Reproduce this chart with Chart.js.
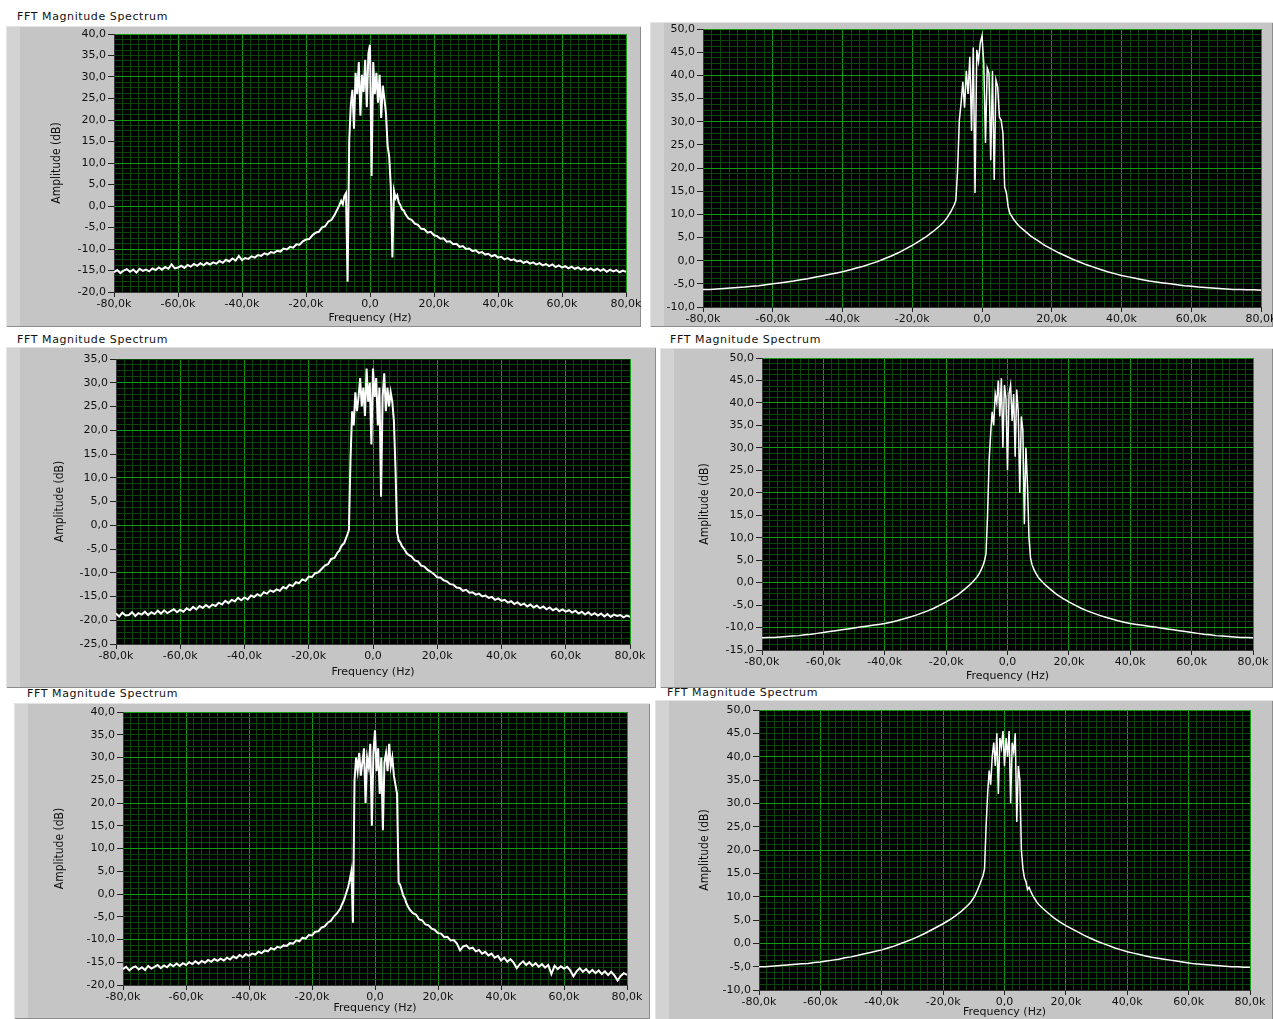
<!DOCTYPE html>
<html lang="pt">
<head>
<meta charset="utf-8">
<title>FFT Magnitude Spectrum</title>
<script src="https://cdn.jsdelivr.net/npm/chart.js@4.4.0/dist/chart.umd.min.js"></script>
<style>
  html, body { margin: 0; padding: 0; background: #fff; }
  body { position: relative; width: 1273px; height: 1019px; overflow: hidden; }
  .titulo { position: absolute; font: 11px "DejaVu Sans", sans-serif; letter-spacing: 0.6px; color: #111; white-space: nowrap; line-height: 14px; }
  .painel { position: absolute; background: #c5c5c5; box-shadow: inset 1px 1px 0 #e4e4e4, inset -1px -1px 0 #8c8c8c, inset 14px 0 0 #d3d3d3; }
  .painel canvas { position: absolute; left: 0; top: 0; }
</style>
</head>
<body>
<div class="titulo" style="left:17px;top:10px">FFT Magnitude Spectrum</div>
<div class="titulo" style="left:17px;top:333px">FFT Magnitude Spectrum</div>
<div class="titulo" style="left:670px;top:333px">FFT Magnitude Spectrum</div>
<div class="titulo" style="left:27px;top:687px">FFT Magnitude Spectrum</div>
<div class="titulo" style="left:667px;top:686px">FFT Magnitude Spectrum</div>
<script>
// frequencias em kHz
const freqRuidoso = [
  -80, -79, -78, -77, -76, -75, -74, -73, -72, -71,
  -70, -69, -68, -67, -66, -65, -64, -63, -62, -61,
  -60, -59, -58, -57, -56, -55, -54, -53, -52, -51,
  -50, -49, -48, -47, -46, -45, -44, -43, -42, -41,
  -40, -39, -38, -37, -36, -35, -34, -33, -32, -31,
  -30, -29, -28, -27, -26, -25, -24, -23, -22, -21,
  -20, -19, -18, -17, -16, -15, -14, -13, -12, -11,
  -10.5, -10, -9.5, -9, -8.5, -8, -7.5, -7, -6.5, -6, -5.5,
  -5, -4.5, -4, -3.5, -3, -2.5, -2, -1.5, -1, -0.5,
  0, 0.5, 1, 1.5, 2, 2.5, 3, 3.5, 4, 4.5, 5,
  5.5, 6, 6.5, 7, 7.5, 8, 8.5, 9, 9.5, 10, 10.5,
  11, 12, 13, 14, 15, 16, 17, 18, 19, 20,
  21, 22, 23, 24, 25, 26, 27, 28, 29, 30,
  31, 32, 33, 34, 35, 36, 37, 38, 39, 40,
  41, 42, 43, 44, 45, 46, 47, 48, 49, 50,
  51, 52, 53, 54, 55, 56, 57, 58, 59, 60,
  61, 62, 63, 64, 65, 66, 67, 68, 69, 70,
  71, 72, 73, 74, 75, 76, 77, 78, 79, 80
];

const freqSuave = [
  -80, -78, -76, -74, -72, -70, -68, -66, -64, -62,
  -60, -58, -56, -54, -52, -50, -48, -46, -44, -42,
  -40, -38, -36, -34, -32, -30, -28, -26, -24, -22,
  -20, -18, -16, -14, -12,
  -11, -10.5, -10, -9.5, -9, -8.5, -8, -7.5, -7, -6.5, -6,
  -5.5, -5, -4.5, -4, -3.5, -3, -2.5, -2, -1.5, -1, -0.5,
  0, 0.5, 1, 1.5, 2, 2.5, 3, 3.5, 4, 4.5, 5,
  5.5, 6, 6.5, 7, 7.5, 8, 8.5, 9, 9.5, 10, 10.5, 11,
  12, 14, 16, 18, 20, 22, 24, 26, 28, 30,
  32, 34, 36, 38, 40, 42, 44, 46, 48, 50,
  52, 54, 56, 58, 60, 62, 64, 66, 68, 70,
  72, 74, 76, 78, 80
];

// amplitudes em dB
const amplitude1 = [
  -15.4, -14.9, -15.6, -15.0, -14.7, -15.3, -14.8, -15.5, -14.6, -15.1,
  -14.8, -15.2, -14.5, -14.9, -14.3, -14.8, -14.2, -14.6, -13.6, -14.5,
  -14.3, -13.9, -14.4, -13.7, -14.1, -13.5, -13.9, -13.3, -13.8, -13.2,
  -13.6, -13.1, -13.4, -12.8, -13.2, -12.5, -12.9, -12.2, -12.7, -11.6,
  -12.6, -12.1, -12.3, -11.7, -12.0, -11.4, -11.6, -11.0, -11.3, -10.7,
  -10.9, -10.4, -10.6, -9.9, -10.1, -9.5, -9.7, -8.9, -9.0, -8.2,
  -7.8, -7.7, -6.8, -6.2, -6.0, -5.0, -4.7, -3.6, -3.2, -2.0,
  -1.2, -0.5, 0.3, 1.2, 0.4, 2.3, 3.0, -17.6, 15.0, 23.5, 27.0,
  18.0, 31.0, 26.0, 33.5, 21.0, 30.5, 26.5, 34.0, 23.0, 35.5,
  37.5, 7.0, 33.5, 26.0, 31.0, 24.0, 30.5, 20.5, 28.0, 25.0, 21.5,
  14.0, 11.5, 4.5, -12.0, 3.5, 1.8, 2.5, 0.8, 0.2, -0.8, -1.0,
  -1.8, -2.9, -3.2, -4.1, -4.4, -5.3, -5.4, -6.2, -6.0, -6.8,
  -7.0, -7.6, -7.5, -8.3, -8.2, -8.9, -8.8, -9.5, -9.3, -10.0,
  -9.9, -10.5, -10.3, -10.9, -10.7, -11.3, -11.1, -11.7, -11.4, -12.0,
  -11.8, -12.4, -12.1, -12.6, -12.4, -12.9, -12.7, -13.2, -12.9, -13.4,
  -13.1, -13.6, -13.3, -13.8, -13.5, -14.0, -13.6, -14.2, -13.8, -14.3,
  -14.0, -14.5, -14.1, -14.6, -14.3, -14.8, -14.4, -14.9, -14.5, -15.0,
  -14.6, -15.1, -14.7, -15.3, -14.8, -15.2, -14.9, -15.4, -15.0, -15.3
];

const amplitude2 = [
  -6.2, -6.2, -6.1, -6.0, -5.9, -5.8, -5.7, -5.5, -5.4, -5.2,
  -5.0, -4.8, -4.6, -4.4, -4.1, -3.9, -3.6, -3.3, -3.0, -2.7,
  -2.4, -2.0, -1.6, -1.2, -0.7, -0.2, 0.4, 1.0, 1.7, 2.5,
  3.3, 4.2, 5.2, 6.3, 7.6,
  8.3, 8.8, 9.3, 9.9, 10.5, 11.2, 12.0, 13.0, 19.5, 30.3, 34.0,
  38.6, 33.0, 41.0, 36.0, 44.0, 28.0, 46.0, 14.6, 45.5, 43.0, 47.0,
  48.5, 42.7, 25.4, 41.6, 40.5, 21.7, 41.0, 17.4, 39.0, 37.5, 31.0,
  30.3, 27.5, 15.9, 14.6, 11.6, 10.2, 9.6, 9.0, 8.5, 8.0, 7.6, 7.2,
  6.6, 5.3, 4.3, 3.3, 2.5, 1.7, 1.0, 0.3, -0.3, -0.9,
  -1.4, -1.9, -2.4, -2.8, -3.2, -3.5, -3.8, -4.1, -4.4, -4.6,
  -4.8, -5.0, -5.2, -5.4, -5.5, -5.7, -5.8, -5.9, -6.0, -6.1,
  -6.2, -6.2, -6.3, -6.3, -6.4
];

const amplitude3 = [
  -18.6, -19.2, -18.4, -19.0, -18.9, -18.3, -19.1, -18.5, -18.8, -18.2,
  -18.9, -18.3, -18.7, -18.0, -18.6, -17.9, -18.5, -18.1, -17.7, -18.3,
  -17.8, -18.2, -17.5, -17.9, -17.2, -17.7, -17.0, -17.4, -16.8, -17.3,
  -16.7, -17.0, -16.3, -16.7, -15.9, -16.4, -15.7, -16.0, -15.3, -15.8,
  -15.2, -15.6, -14.8, -15.1, -14.5, -14.9, -14.1, -14.4, -13.7, -14.0,
  -13.5, -13.8, -13.0, -13.3, -12.5, -12.8, -12.0, -12.2, -11.4, -11.7,
  -10.8, -10.9, -10.1, -9.9, -9.2, -8.5, -8.2, -7.1, -6.9, -5.7,
  -5.4, -4.6, -4.1, -3.8, -2.9, -2.0, -1.0, 14.0, 24.0, 21.0, 28.0,
  24.0, 27.0, 31.0, 25.0, 29.0, 23.0, 33.0, 26.0, 30.0, 17.0,
  33.0, 27.0, 31.0, 21.0, 29.0, 6.0, 27.0, 32.0, 24.0, 29.0, 25.0,
  28.0, 26.0, 22.0, 12.0, -1.5, -3.2, -3.6, -4.4, -4.8, -5.3, -5.9,
  -6.2, -6.6, -7.4, -7.6, -8.5, -8.7, -9.4, -9.8, -10.3, -11.0,
  -11.0, -11.6, -11.8, -12.4, -12.5, -13.1, -13.2, -13.8, -13.6, -14.2,
  -14.1, -14.6, -14.4, -15.0, -14.8, -15.3, -15.1, -15.7, -15.4, -15.9,
  -15.7, -16.3, -16.0, -16.6, -16.2, -16.8, -16.5, -17.1, -16.7, -17.3,
  -16.9, -17.5, -17.1, -17.7, -17.3, -17.9, -17.5, -18.1, -17.7, -18.2,
  -17.9, -18.4, -18.0, -18.6, -18.2, -18.8, -18.3, -18.9, -18.5, -19.0,
  -18.6, -19.2, -18.7, -19.3, -18.8, -19.1, -18.9, -19.4, -19.0, -19.3
];

const amplitude4 = [
  -12.3, -12.2, -12.2, -12.1, -12.0, -11.9, -11.8, -11.6, -11.5, -11.3,
  -11.1, -10.9, -10.7, -10.5, -10.3, -10.1, -9.9, -9.7, -9.5, -9.3,
  -9.1, -8.8, -8.5, -8.1, -7.7, -7.3, -6.8, -6.3, -5.7, -5.0,
  -4.3, -3.5, -2.6, -1.5, -0.3,
  0.4, 0.8, 1.2, 1.7, 2.3, 3.0, 3.8, 4.8, 6.5, 15.0, 27.0,
  33.0, 38.0, 35.0, 42.0, 40.0, 45.0, 37.0, 45.5, 30.0, 44.0, 41.0,
  25.0, 42.0, 44.0, 36.0, 42.0, 28.0, 43.0, 38.0, 20.0, 37.0, 34.0,
  13.0, 30.0, 22.0, 10.0, 5.5, 4.0, 3.1, 2.4, 1.8, 1.2, 0.8, 0.4,
  -0.3, -1.5, -2.6, -3.5, -4.3, -5.0, -5.7, -6.3, -6.8, -7.3,
  -7.7, -8.1, -8.5, -8.8, -9.1, -9.3, -9.5, -9.7, -9.9, -10.1,
  -10.3, -10.5, -10.7, -10.9, -11.1, -11.3, -11.5, -11.6, -11.8, -11.9,
  -12.0, -12.1, -12.2, -12.2, -12.3
];

const amplitude5 = [
  -16.5, -16.0, -16.8, -16.2, -15.9, -16.6, -16.1, -16.7, -15.8, -16.4,
  -16.0, -15.6, -16.3, -15.7, -16.1, -15.4, -15.9, -15.3, -15.8, -15.2,
  -15.6, -15.0, -15.4, -14.8, -15.3, -14.7, -15.1, -14.5, -14.9, -14.3,
  -14.7, -14.2, -14.6, -14.0, -14.4, -13.7, -14.1, -13.4, -13.9, -13.2,
  -13.6, -13.1, -13.3, -12.7, -13.0, -12.4, -12.6, -11.9, -12.2, -11.6,
  -11.8, -11.3, -11.4, -10.8, -10.9, -10.2, -10.4, -9.6, -9.8, -9.0,
  -9.1, -8.3, -8.2, -7.4, -7.1, -6.3, -5.9, -4.9, -4.2, -3.2,
  -2.3, -1.6, -0.6, 0.5, 1.6, 3.2, 5.0, -6.3, 25.0, 30.0, 27.0,
  31.0, 26.0, 29.0, 32.0, 20.0, 30.0, 28.0, 33.0, 15.0, 31.0,
  36.0, 27.0, 32.0, 22.0, 30.0, 14.0, 29.0, 31.0, 27.0, 33.0, 28.0,
  30.0, 26.0, 24.0, 22.0, 2.5, 2.0, 0.8, -0.4, -1.0, -2.1, -2.8,
  -3.4, -4.2, -4.5, -5.6, -5.8, -6.7, -6.9, -7.6, -7.9, -8.6,
  -8.7, -9.5, -9.4, -10.2, -10.1, -10.9, -12.4, -11.5, -11.3, -12.0,
  -11.8, -12.6, -12.3, -13.1, -12.7, -13.5, -13.1, -14.0, -13.6, -14.6,
  -14.0, -14.9, -14.3, -15.1, -16.3, -15.4, -14.8, -15.6, -15.0, -15.8,
  -15.2, -16.0, -15.4, -16.2, -15.6, -17.6, -15.8, -16.5, -15.9, -16.4,
  -16.0, -16.8, -18.1, -17.0, -16.3, -17.1, -16.5, -17.3, -16.7, -17.4,
  -16.8, -17.6, -17.0, -17.8, -17.1, -17.9, -19.0, -18.0, -17.4, -17.8
];

const amplitude6 = [
  -5.0, -5.0, -4.9, -4.8, -4.7, -4.6, -4.5, -4.4, -4.3, -4.1,
  -4.0, -3.8, -3.6, -3.4, -3.1, -2.9, -2.6, -2.3, -2.0, -1.7,
  -1.4, -1.0, -0.6, -0.1, 0.4, 0.9, 1.5, 2.1, 2.8, 3.5,
  4.2, 5.0, 5.9, 6.9, 8.1,
  8.8, 9.3, 9.8, 10.4, 11.1, 11.9, 12.7, 13.6, 14.5, 16.0, 25.0,
  32.0, 37.0, 34.0, 40.0, 43.0, 38.0, 45.0, 32.0, 44.0, 42.0, 45.5,
  38.0, 44.0, 40.0, 45.5, 30.0, 43.0, 41.0, 45.0, 26.0, 38.0, 35.0,
  20.0, 16.0, 14.0, 13.2, 11.5, 12.0, 11.2, 10.5, 9.9, 9.4, 8.9, 8.4,
  7.8, 6.6, 5.5, 4.6, 3.8, 3.1, 2.4, 1.7, 1.1, 0.5,
  0.0, -0.5, -1.0, -1.4, -1.8, -2.1, -2.4, -2.7, -3.0, -3.2,
  -3.4, -3.6, -3.8, -4.0, -4.2, -4.4, -4.5, -4.6, -4.7, -4.8,
  -4.9, -5.0, -5.0, -5.1, -5.1
];

const faixasY = [[-20, 40], [-10, 50], [-25, 35], [-15, 50], [-20, 40], [-10, 50]];

// layout dos paineis (posicoes na pagina)
const paineis = [
  { x: 6, y: 26, w: 635, h: 301, l: 114, t: 34, r: 626, b: 292, alturaX: 34, tituloY: 51, freq: freqRuidoso, amp: amplitude1, faixa: faixasY[0], linha: 2 },
  { x: 650, y: 22, w: 623, h: 305, l: 703, t: 29, r: 1261, b: 307, alturaX: 20, tituloY: 0, freq: freqSuave, amp: amplitude2, faixa: faixasY[1], linha: 1.5 },
  { x: 6, y: 347, w: 650, h: 341, l: 116, t: 359, r: 630, b: 644, alturaX: 36, tituloY: 54, freq: freqRuidoso, amp: amplitude3, faixa: faixasY[2], linha: 2 },
  { x: 660, y: 348, w: 613, h: 340, l: 762, t: 358, r: 1253, b: 650, alturaX: 34, tituloY: 45, freq: freqSuave, amp: amplitude4, faixa: faixasY[3], linha: 1.5 },
  { x: 14, y: 703, w: 636, h: 316, l: 123, t: 712, r: 627, b: 985, alturaX: 31, tituloY: 46, freq: freqRuidoso, amp: amplitude5, faixa: faixasY[4], linha: 2 },
  { x: 655, y: 700, w: 618, h: 320, l: 759, t: 710, r: 1250, b: 990, alturaX: 30, tituloY: 50, freq: freqSuave, amp: amplitude6, faixa: faixasY[5], linha: 1.5 }
];

const corGradeMaior = "#139c13";
const corGradeMenor = "#0b470b";
const fonteTicks = { family: "'DejaVu Sans', sans-serif", size: 11 };
const fonteTituloY = { family: "'Liberation Sans Narrow', 'DejaVu Sans Condensed', sans-serif", size: 12 };

const fundoPreto = {
  id: "fundoPreto",
  beforeDraw(chart) {
    const { ctx, chartArea: a } = chart;
    ctx.save();
    ctx.fillStyle = "#000";
    ctx.fillRect(a.left, a.top, a.right - a.left, a.bottom - a.top);
    ctx.restore();
  }
};

function multiplo(v, m) {
  return Math.abs(v / m - Math.round(v / m)) < 1e-6;
}

function gerarTicks(min, max, passo) {
  const ticks = [];
  const n = Math.round((max - min) / passo);
  for (let i = 0; i <= n; i++) {
    ticks.push({ value: +(min + i * passo).toFixed(4) });
  }
  return ticks;
}

function rotuloFreq(v) {
  if (Math.abs(v) < 1e-9) return "0,0";
  return v.toFixed(1).replace(".", ",") + "k";
}

function criarGrafico(canvas, p) {
  const comTitulos = p.tituloY > 0;
  const padEsq = comTitulos ? p.tituloY - (fonteTituloY.size * 1.2) / 2 : 0;
  const larguraY = p.l - p.x - padEsq;

  new Chart(canvas.getContext("2d"), {
    type: "line",
    data: {
      datasets: [
        {
          data: p.freq.map((f, i) => ({ x: f, y: p.amp[i] })),
          borderColor: "#ffffff",
          borderWidth: p.linha,
          pointRadius: 0,
          tension: 0,
          fill: false,
        },
      ],
    },
    options: {
      responsive: false,
      animation: false,
      events: [],
      layout: {
        padding: {
          left: padEsq,
          top: p.t - p.y,
          right: p.x + p.w - p.r,
          bottom: p.h - (p.b - p.y) - p.alturaX,
        },
      },
      plugins: { legend: { display: false }, tooltip: { enabled: false } },
      scales: {
        x: {
          type: "linear",
          min: -80,
          max: 80,
          afterBuildTicks: (s) => { s.ticks = gerarTicks(-80, 80, 2.5); },
          afterFit: (s) => { s.height = p.alturaX; s.paddingLeft = 0; s.paddingRight = 0; },
          grid: {
            color: (c) => (c.tick && multiplo(c.tick.value, 20) ? corGradeMaior : corGradeMenor),
            tickLength: 5,
            tickColor: (c) => (c.tick && multiplo(c.tick.value, 20) ? "#222" : "rgba(0,0,0,0)"),
          },
          border: { color: "#3a3a3a" },
          ticks: {
            autoSkip: false,
            maxRotation: 0,
            minRotation: 0,
            padding: 1,
            color: "#111",
            font: fonteTicks,
            callback: (v) => (multiplo(v, 20) ? rotuloFreq(v) : ""),
          },
          title: {
            display: comTitulos,
            text: "Frequency (Hz)",
            color: "#111",
            font: fonteTicks,
            padding: { top: 0, bottom: 1 },
          },
        },
        y: {
          type: "linear",
          min: p.faixa[0],
          max: p.faixa[1],
          afterBuildTicks: (s) => { s.ticks = gerarTicks(p.faixa[0], p.faixa[1], 1.25); },
          afterFit: (s) => { s.width = larguraY; s.paddingTop = 0; s.paddingBottom = 0; },
          grid: {
            color: (c) => (c.tick && multiplo(c.tick.value, 10) ? corGradeMaior : corGradeMenor),
            tickLength: 6,
            tickColor: (c) => (c.tick && multiplo(c.tick.value, 5) ? "#222" : "rgba(0,0,0,0)"),
          },
          border: { color: "#3a3a3a" },
          ticks: {
            autoSkip: false,
            padding: 2,
            color: "#111",
            font: fonteTicks,
            callback: (v) => (multiplo(v, 5) ? v.toFixed(1).replace(".", ",") : ""),
          },
          title: {
            display: comTitulos,
            text: "Amplitude (dB)",
            color: "#111",
            font: fonteTituloY,
            padding: { top: 0, bottom: 0 },
          },
        },
      },
    },
    plugins: [fundoPreto],
  });
}

paineis.forEach((p) => {
  const div = document.createElement("div");
  div.className = "painel";
  div.style.left = p.x + "px";
  div.style.top = p.y + "px";
  div.style.width = p.w + "px";
  div.style.height = p.h + "px";
  const canvas = document.createElement("canvas");
  canvas.width = p.w;
  canvas.height = p.h;
  canvas.style.width = p.w + "px";
  canvas.style.height = p.h + "px";
  div.appendChild(canvas);
  document.body.appendChild(div);
  criarGrafico(canvas, p);
});
</script>
</body>
</html>
